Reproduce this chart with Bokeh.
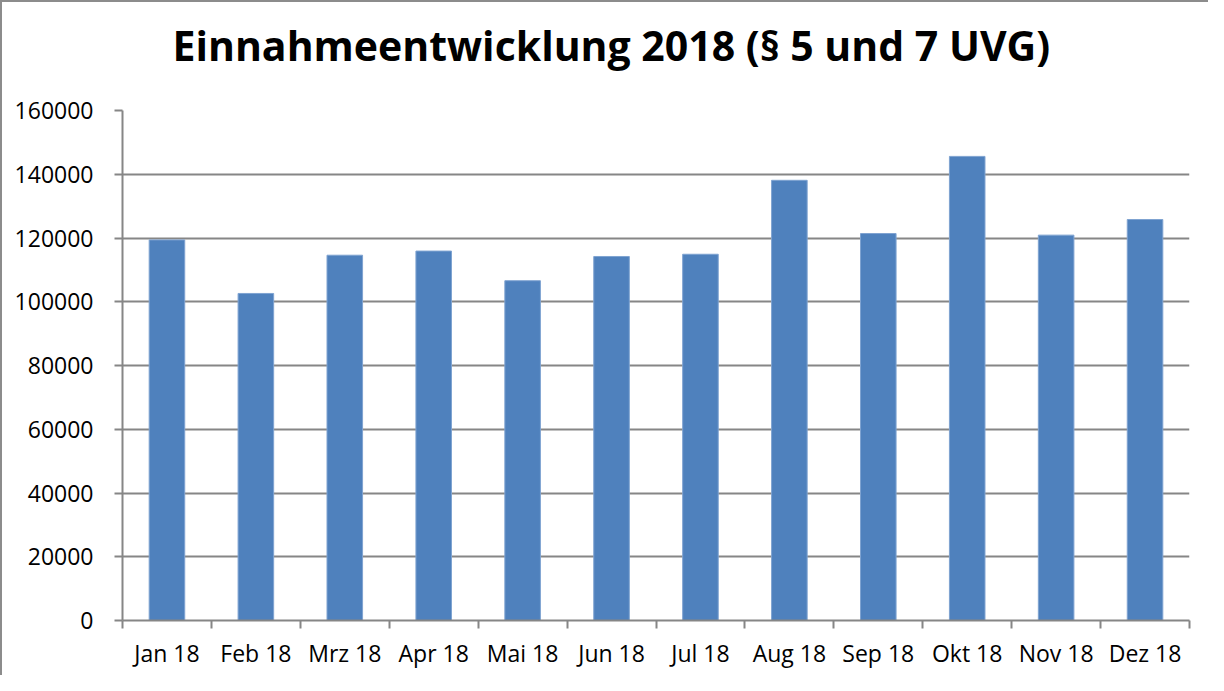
from bokeh.plotting import figure
from bokeh.models import FixedTicker, ColumnDataSource, Title
from bokeh.embed import file_html
from bokeh.resources import INLINE

title_text = "Einnahmeentwicklung 2018 (§ 5 und 7 UVG)"
months = ["Jan 18", "Feb 18", "Mrz 18", "Apr 18", "Mai 18", "Jun 18",
          "Jul 18", "Aug 18", "Sep 18", "Okt 18", "Nov 18", "Dez 18"]
einnahmen = [119400, 102600, 114600, 115900, 106600, 114200,
             114900, 138100, 121400, 145600, 120900, 125800]
y_ticks = [0, 20000, 40000, 60000, 80000, 100000, 120000, 140000, 160000]

x_pos = [i + 0.5 for i in range(len(months))]
src = ColumnDataSource(dict(x=x_pos, top=einnahmen, m=months))

p = figure(width=1208, height=675, output_backend="svg", toolbar_location=None,
           x_range=(0, len(months)), y_range=(0, 160000),
           min_border_left=120, min_border_right=21, min_border_top=108,
           min_border_bottom=57, title=title_text,
           styles={"border-left": "2px solid #8c8c8c", "border-top": "2px solid #8c8c8c"})

# blank spacer between title and plot area
p.add_layout(Title(text=" ", text_font_size="12px", standoff=22), "above")

p.vbar(x="x", top="top", bottom=0, width=0.4, source=src,
       fill_color="#4F81BD", line_color="#7FA3D1", line_width=1)

p.title.text_font = "Open Sans"
p.title.text_font_size = "41px"
p.title.text_font_style = "bold"
p.title.align = "left"
p.title.offset = 50
p.title.standoff = 0
p.title.text_color = "#000000"

p.outline_line_color = None
p.background_fill_color = "white"
p.border_fill_color = "white"

# x axis
xt = FixedTicker(ticks=x_pos, minor_ticks=list(range(len(months) + 1)))
p.xaxis.ticker = xt
p.xaxis.major_label_overrides = {x: m for x, m in zip(x_pos, months)}
p.xaxis.major_tick_out = 0
p.xaxis.major_tick_in = 0
p.xaxis.minor_tick_out = 8
p.xaxis.minor_tick_in = 0
p.xaxis.minor_tick_line_color = "#868686"
p.xaxis.minor_tick_line_width = 2
p.xaxis.axis_line_color = "#868686"
p.xaxis.axis_line_width = 2
p.xaxis.major_label_text_font = "Open Sans"
p.xaxis.major_label_text_font_size = "23px"
p.xaxis.major_label_text_color = "#000000"
p.xaxis.major_label_standoff = 8

# y axis
p.yaxis.ticker = FixedTicker(ticks=y_ticks)
p.yaxis.formatter.use_scientific = False
p.yaxis.major_tick_out = 8
p.yaxis.major_tick_in = 0
p.yaxis.minor_tick_line_color = None
p.yaxis.major_tick_line_color = "#868686"
p.yaxis.major_tick_line_width = 2
p.yaxis.axis_line_color = "#868686"
p.yaxis.axis_line_width = 2
p.yaxis.major_label_text_font = "Open Sans"
p.yaxis.major_label_text_font_size = "23px"
p.yaxis.major_label_text_color = "#000000"
p.yaxis.major_label_standoff = 21

p.xgrid.grid_line_color = None
p.ygrid.grid_line_color = "#868686"
p.ygrid.grid_line_width = 2

open("out.html", "w").write(file_html(p, INLINE))
